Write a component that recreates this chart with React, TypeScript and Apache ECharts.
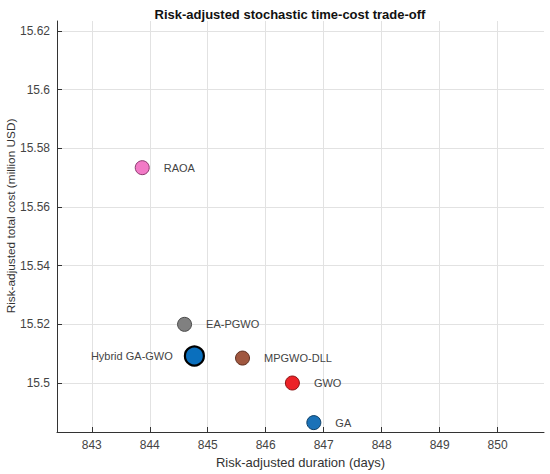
import React, { useEffect, useRef } from "react";
import * as echarts from "echarts";

const algorithms = ["RAOA", "EA-PGWO", "Hybrid GA-GWO", "MPGWO-DLL", "GWO", "GA"];
const durations = [843.87, 844.6, 844.77, 845.6, 846.46, 846.83];
const costs = [15.5734, 15.52, 15.5092, 15.5085, 15.5, 15.4865];
const fills = ["#f27ac6", "#808080", "#0a6fbd", "#a0573f", "#ec2227", "#1a72b8"];
const borders = ["#8a3a6e", "#4a4a4a", "#000000", "#5e2f20", "#8a1010", "#0d3f66"];
const labelSides = ["right", "right", "left", "right", "right", "right"];
const xTicks = [843, 844, 845, 846, 847, 848, 849, 850];
const yTicks = [15.5, 15.52, 15.54, 15.56, 15.58, 15.6, 15.62];

export default function App() {
  const ref = useRef<HTMLDivElement>(null);
  useEffect(() => {
    document.body.style.margin = "0";
    const chart = echarts.init(ref.current!, null, { renderer: "svg" });
    const font = "Liberation Sans, Arial, sans-serif";
    const series = algorithms.map((name, i) => {
      const hybrid = name === "Hybrid GA-GWO";
      return {
        type: "scatter",
        name,
        data: [[durations[i], costs[i]]],
        symbolSize: hybrid ? 19 : 14,
        itemStyle: {
          color: fills[i],
          borderColor: borders[i],
          borderWidth: hybrid ? 2.2 : 1,
          opacity: 1,
        },
        label: {
          show: true,
          formatter: name,
          position: labelSides[i],
          distance: hybrid ? 11 : 14,
          color: "#444444",
          fontSize: 11,
          fontFamily: font,
        },
        z: hybrid ? 5 : 3,
      };
    });
    chart.setOption({
      animation: false,
      backgroundColor: "#ffffff",
      title: {
        text: "Risk-adjusted stochastic time-cost trade-off",
        left: 285,
        textAlign: "center",
        top: 3,
        textStyle: { fontSize: 13, fontWeight: "bold", color: "#111111", fontFamily: font },
      },
      graphic: [
        {
          type: "text",
          x: 11,
          y: 216,
          rotation: Math.PI / 2,
          style: {
            text: "Risk-adjusted total cost (million USD)",
            align: "center",
            verticalAlign: "middle",
            fontSize: 11.8,
            fill: "#333333",
            fontFamily: font,
          },
        },
      ],
      grid: { left: 57, right: 6, top: 21, bottom: 42, containLabel: false, outerBoundsMode: "none" },
      xAxis: {
        type: "value",
        min: 842.4,
        max: 850.8,
        name: "Risk-adjusted duration (days)",
        nameLocation: "middle",
        nameGap: 23,
        nameTextStyle: { fontSize: 13, color: "#333333", fontFamily: font },
        axisLine: { show: true, onZero: false, lineStyle: { color: "#333333", width: 1 } },
        axisTick: { show: true, inside: true, length: 5, customValues: xTicks, lineStyle: { color: "#333333" } },
        axisLabel: { customValues: xTicks, margin: 7, fontSize: 12, color: "#444444", fontFamily: font },
        splitLine: { show: true, lineStyle: { color: "#e2e2e2", width: 1 } },
      },
      yAxis: {
        type: "value",
        min: 15.4833,
        max: 15.6234,
        axisLine: { show: true, onZero: false, lineStyle: { color: "#333333", width: 1 } },
        axisTick: { show: true, inside: true, length: 5, customValues: yTicks, lineStyle: { color: "#333333" } },
        axisLabel: {
          customValues: yTicks,
          margin: 7,
          fontSize: 12,
          color: "#444444",
          fontFamily: font,
          formatter: (v: number) => String(parseFloat(v.toFixed(2))),
        },
        splitLine: { show: true, lineStyle: { color: "#e2e2e2", width: 1 } },
      },
      series,
    });
    return () => chart.dispose();
  }, []);
  return <div ref={ref} style={{ width: 550, height: 474 }} />;
}
